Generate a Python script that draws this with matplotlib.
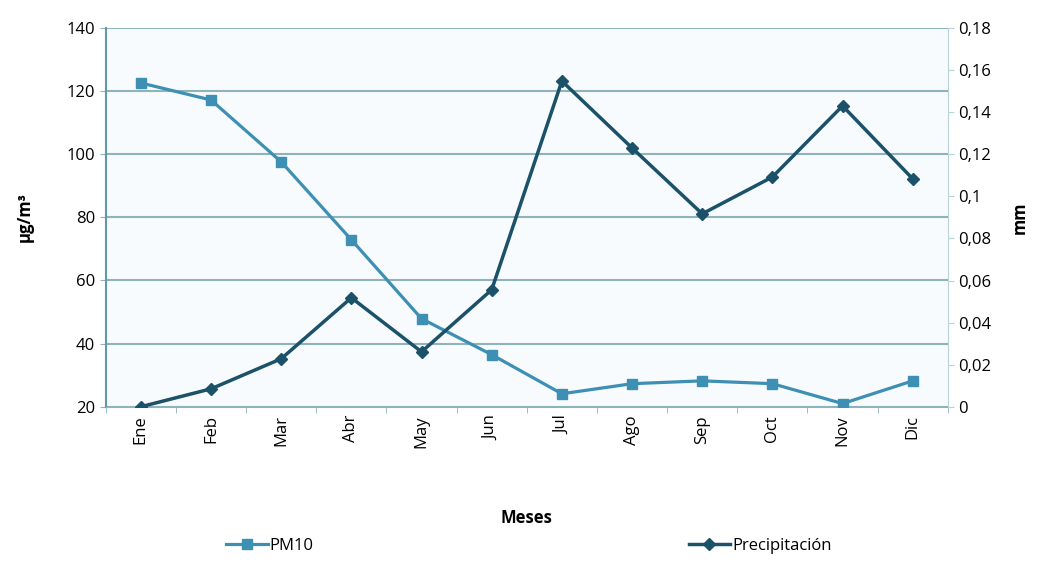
import matplotlib.pyplot as plt
import numpy as np

# Data
meses = ["Ene", "Feb", "Mar", "Abr", "May", "Jun", "Jul", "Ago", "Sep", "Oct", "Nov", "Dic"]
pm10 = [122.6, 117.2, 97.6, 72.9, 47.9, 36.5, 24.1, 27.3, 28.2, 27.3, 21.0, 28.2]
precipitacion = [0.0, 0.0085, 0.0228, 0.0518, 0.0261, 0.0556, 0.1548, 0.123, 0.0917, 0.1092, 0.143, 0.1083]

plt.rcParams['font.family'] = ['Open Sans', 'DejaVu Sans']

col_pm = "#3d8fb3"
col_pr = "#1b5169"
col_grid = "#8fb3ba"

fig = plt.figure(figsize=(10.37, 5.61), dpi=100)
ax = fig.add_axes([0.102, 0.275, 0.812, 0.675])
ax.set_facecolor("#f8fbfd")
x = np.arange(len(meses))

ax.plot(x, pm10, color=col_pm, lw=2.3, marker="s", ms=7, label="PM10", zorder=3)
ax.set_ylim(20, 140)
ax.set_yticks(range(20, 141, 20))
ax.set_xlim(-0.5, len(meses) - 0.5)
ax.set_xticks(x)
ax.set_xticklabels(meses, rotation=90, fontsize=12)
ax.set_xticks(np.arange(-0.5, len(meses), 1), minor=True)
ax.tick_params(axis="x", which="major", length=0, pad=6)
ax.tick_params(axis="x", which="minor", length=4, color=col_grid)
ax.tick_params(axis="y", labelsize=12, length=4, color=col_grid)
ax.grid(axis="y", color=col_grid, lw=1.5)
ax.set_axisbelow(True)
for s in ["top", "right"]:
    ax.spines[s].set_visible(False)
ax.spines["left"].set_color("#5f9aa6")
ax.spines["left"].set_linewidth(1.5)
ax.spines["bottom"].set_color(col_grid)
ax.set_ylabel("µg/m³", fontsize=12, fontweight="bold", labelpad=24)
ax.set_xlabel("Meses", fontsize=12, fontweight="bold", labelpad=44)

ax2 = ax.twinx()
ax2.plot(x, precipitacion, color=col_pr, lw=2.5, marker="D", ms=6, label="Precipitación", zorder=4)
ax2.set_ylim(0, 0.18)
ax2.set_yticks(np.arange(0, 0.181, 0.02))
ax2.set_yticklabels(["0", "0,02", "0,04", "0,06", "0,08", "0,1", "0,12", "0,14", "0,16", "0,18"])
ax2.tick_params(axis="y", labelsize=12, length=4, color="#b8d3d8")
for s in ["top", "left", "bottom"]:
    ax2.spines[s].set_visible(False)
ax2.spines["right"].set_color("#b8d3d8")
ax2.set_ylabel("mm", fontsize=12, fontweight="bold", labelpad=14)

h1, l1 = ax.get_legend_handles_labels()
h2, l2 = ax2.get_legend_handles_labels()
fig.legend(h1 + h2, l1 + l2, loc="center", bbox_to_anchor=(0.51, 0.027), ncol=2,
           frameon=False, fontsize=12, columnspacing=22.5, handlelength=2.5, handletextpad=0.1)

fig.savefig("out.png", dpi=100)
